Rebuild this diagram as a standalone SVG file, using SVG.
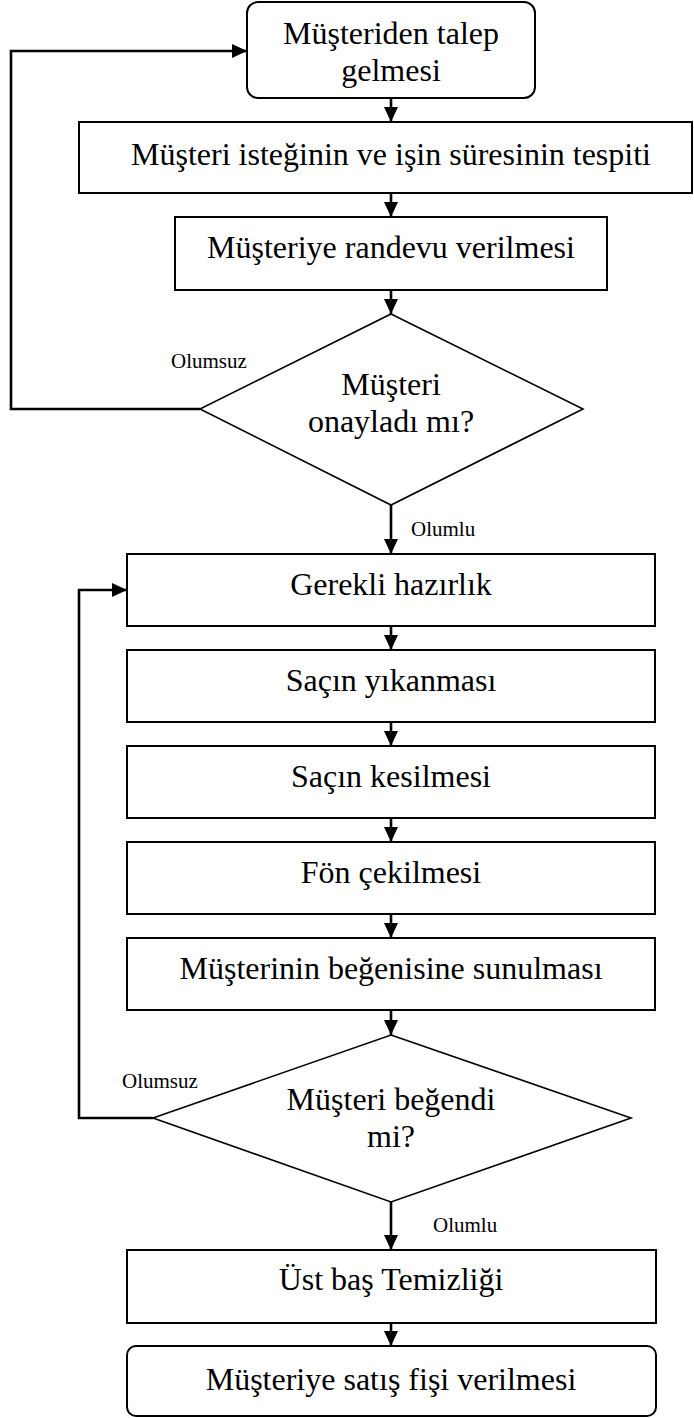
<svg xmlns="http://www.w3.org/2000/svg" width="694" height="1418" viewBox="0 0 694 1418">
<style>
.box{fill:#fff;stroke:#000;stroke-width:2}
.dia{fill:#fff;stroke:#000;stroke-width:1.6}
.t{font-family:"Liberation Serif","Times New Roman",serif;font-size:32px;fill:#000;text-anchor:middle}
.lbl{font-family:"Liberation Serif","Times New Roman",serif;font-size:21px;fill:#000}
.c{fill:none;stroke:#000;stroke-width:2.6}
</style>
<defs>
<marker id="ah" markerUnits="userSpaceOnUse" markerWidth="16" markerHeight="14" refX="15" refY="7" orient="auto">
<path d="M0,0 L15,7 L0,14 z" fill="#000"/>
</marker>
</defs>
<rect width="694" height="1418" fill="#fff"/>
<g id="connectors">
<line class="c" x1="391" y1="98" x2="391" y2="122" marker-end="url(#ah)"/>
<line class="c" x1="391" y1="193" x2="391" y2="217" marker-end="url(#ah)"/>
<line class="c" x1="391" y1="290" x2="391" y2="314" marker-end="url(#ah)"/>
<polyline class="c" points="200,409 11,409 11,51 247,51" marker-end="url(#ah)"/>
<line class="c" x1="391" y1="505" x2="391" y2="554" marker-end="url(#ah)"/>
<line class="c" x1="391" y1="626" x2="391" y2="650" marker-end="url(#ah)"/>
<line class="c" x1="391" y1="722" x2="391" y2="746" marker-end="url(#ah)"/>
<line class="c" x1="391" y1="818" x2="391" y2="842" marker-end="url(#ah)"/>
<line class="c" x1="391" y1="914" x2="391" y2="938" marker-end="url(#ah)"/>
<line class="c" x1="391" y1="1010" x2="391" y2="1035" marker-end="url(#ah)"/>
<polyline class="c" points="153,1118 79,1118 79,590 127,590" marker-end="url(#ah)"/>
<line class="c" x1="391" y1="1202" x2="391" y2="1250" marker-end="url(#ah)"/>
<line class="c" x1="391" y1="1323" x2="391" y2="1346" marker-end="url(#ah)"/>
<text class="lbl" x="171" y="368">Olumsuz</text>
<text class="lbl" x="411" y="536">Olumlu</text>
<text class="lbl" x="122" y="1088">Olumsuz</text>
<text class="lbl" x="433" y="1232">Olumlu</text>
</g>
<g id="n1"><rect class="box" x="247" y="2" width="288" height="96" rx="11"/>
<text class="t" x="391" y="44">Müşteriden talep</text><text class="t" x="391" y="81">gelmesi</text></g>
<g id="n2"><rect class="box" x="79" y="122" width="613" height="71"/>
<text class="t" x="391" y="165">Müşteri isteğinin ve işin süresinin tespiti</text></g>
<g id="n3"><rect class="box" x="175" y="217" width="432" height="73"/>
<text class="t" x="391" y="258">Müşteriye randevu verilmesi</text></g>
<g id="n4"><polygon class="dia" points="391,314 583,409 391,505 200,409"/>
<text class="t" x="391" y="395">Müşteri</text><text class="t" x="391" y="432">onayladı mı?</text></g>
<g id="n5"><rect class="box" x="127" y="554" width="528" height="72"/>
<text class="t" x="391" y="595">Gerekli hazırlık</text></g>
<g id="n6"><rect class="box" x="127" y="650" width="528" height="72"/>
<text class="t" x="391" y="691">Saçın yıkanması</text></g>
<g id="n7"><rect class="box" x="127" y="746" width="528" height="72"/>
<text class="t" x="391" y="787">Saçın kesilmesi</text></g>
<g id="n8"><rect class="box" x="127" y="842" width="528" height="72"/>
<text class="t" x="391" y="883">Fön çekilmesi</text></g>
<g id="n9"><rect class="box" x="127" y="938" width="528" height="72"/>
<text class="t" x="391" y="979">Müşterinin beğenisine sunulması</text></g>
<g id="n10"><polygon class="dia" points="391,1035 631,1118 391,1202 153,1118"/>
<text class="t" x="391" y="1110">Müşteri beğendi</text><text class="t" x="391" y="1147">mi?</text></g>
<g id="n11"><rect class="box" x="127" y="1250" width="529" height="73"/>
<text class="t" x="391" y="1290">Üst baş Temizliği</text></g>
<g id="n12"><rect class="box" x="127" y="1346" width="529" height="70" rx="9"/>
<text class="t" x="391" y="1390">Müşteriye satış fişi verilmesi</text></g>
</svg>
